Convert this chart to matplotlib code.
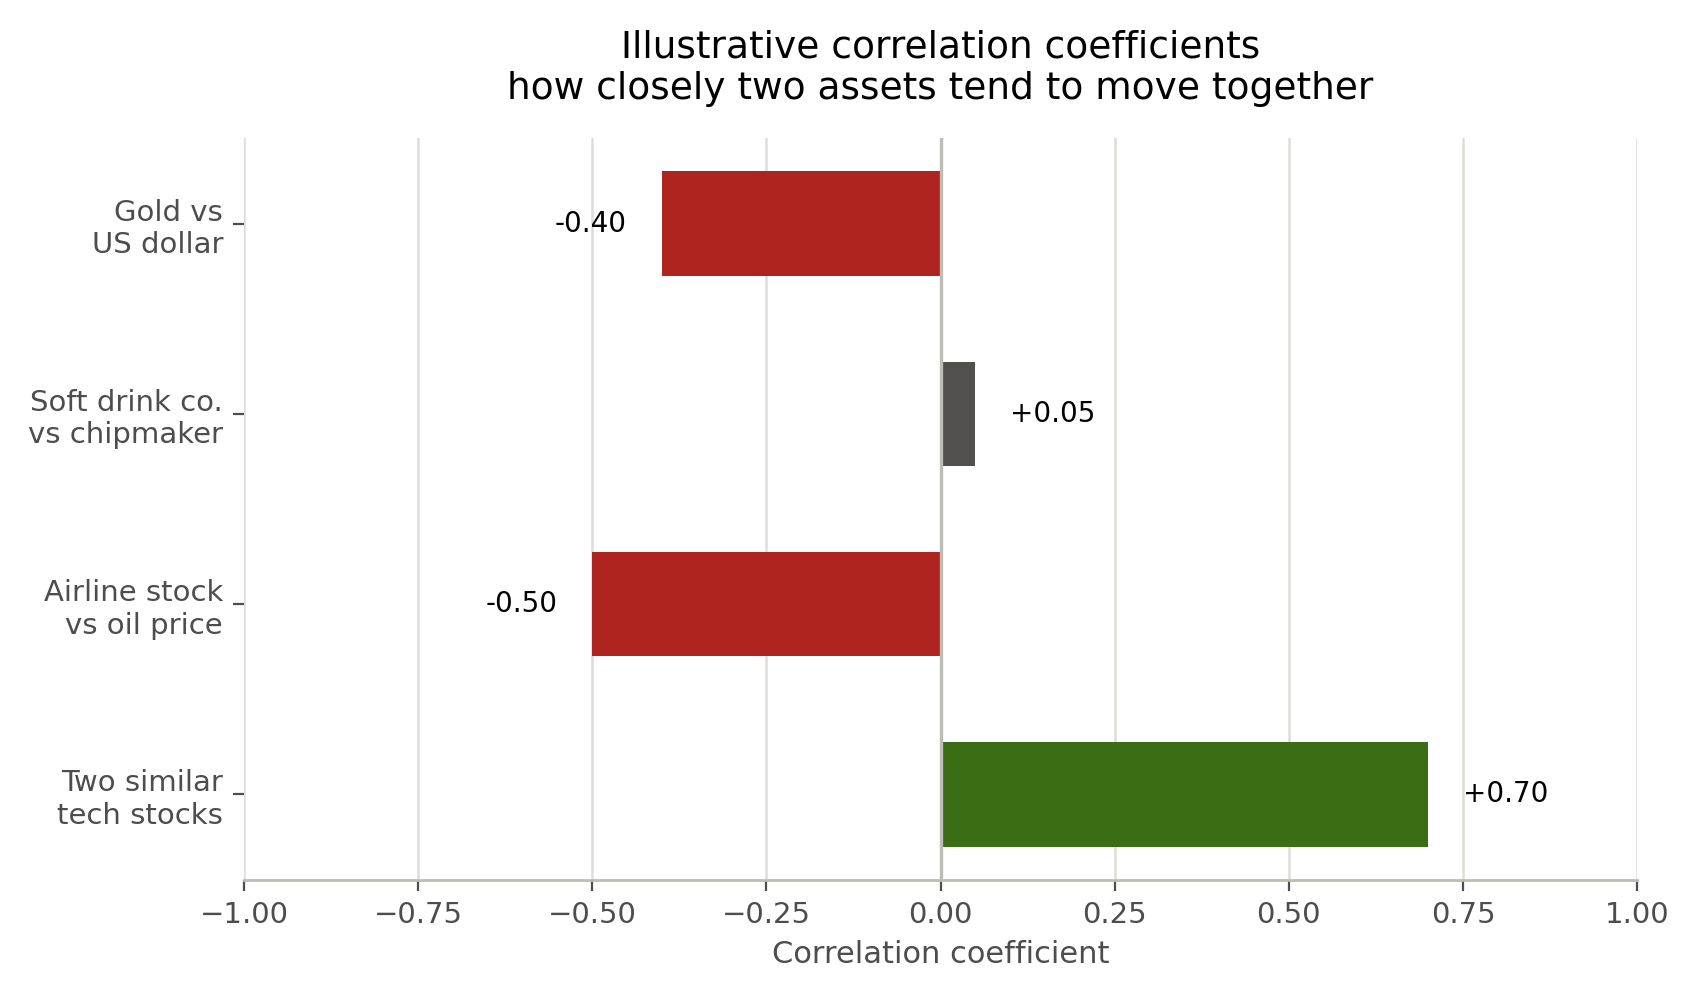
import matplotlib
matplotlib.use("Agg")
import matplotlib.pyplot as plt
import numpy as np

# Data
pairs = ["Gold vs\nUS dollar", "Soft drink co.\nvs chipmaker",
         "Airline stock\nvs oil price", "Two similar\ntech stocks"]
corr = [-0.40, 0.05, -0.50, 0.70]
colors = ["#B0241F", "#52504C", "#B0241F", "#3B6E14"]
xticks = [-1.0, -0.75, -0.5, -0.25, 0.0, 0.25, 0.5, 0.75, 1.0]

fig = plt.figure(figsize=(8.5, 5), dpi=200)
ax = fig.add_axes([0.1435, 0.12, 0.8195, 0.742])

y = np.arange(len(pairs))
ax.barh(y, corr, height=0.55, color=colors, zorder=3)

for yi, v in zip(y, corr):
    off = 0.05 if v >= 0 else -0.05
    ax.text(v + off, yi, f"{v:+.2f}" if v > 0 else f"{v:.2f}",
            ha="left" if v >= 0 else "right", va="center",
            fontsize=10, color="black")

ax.set_xlim(-1, 1)
ax.set_ylim(len(pairs) - 0.55, -0.45)
ax.set_yticks(y)
ax.set_yticklabels(pairs)
ax.set_xticks(xticks)
ax.tick_params(axis="both", labelsize=10.5, colors="#4D4D4D", length=4, width=0.8)
ax.grid(axis="x", color="#DDDDD8", lw=0.9, zorder=0)
ax.axvline(0, color="#BDBDB5", lw=1.2, zorder=4)

for s in ["top", "right", "left"]:
    ax.spines[s].set_visible(False)
ax.spines["bottom"].set_color("#BDBDB5")
ax.spines["bottom"].set_linewidth(1.0)

ax.set_xlabel("Correlation coefficient", fontsize=11, color="#4D4D4D")
ax.set_title("Illustrative correlation coefficients\nhow closely two assets tend to move together",
             fontsize=13.5, pad=14)

fig.savefig("out.png", dpi=200)
